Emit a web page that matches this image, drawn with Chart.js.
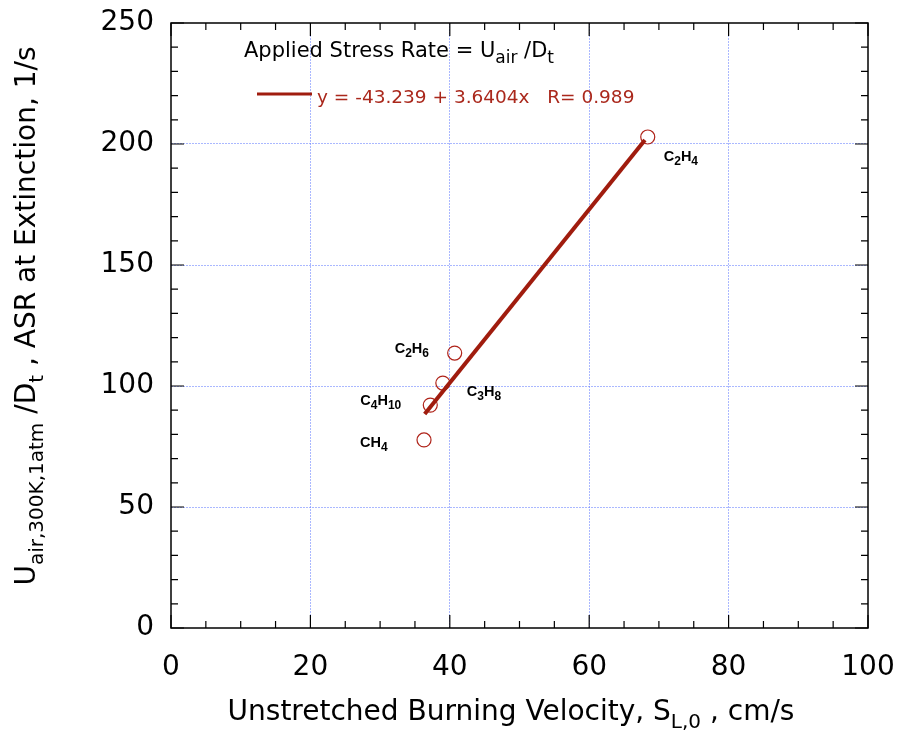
<!DOCTYPE html>
<html>
<head>
<meta charset="utf-8">
<script src="https://cdn.jsdelivr.net/npm/chart.js@4.4.1/dist/chart.umd.min.js"></script>
<style>
  html, body { margin: 0; padding: 0; background: #fff; }
  canvas { display: block; }
</style>
</head>
<body>
<canvas id="asrChart" width="903" height="732"></canvas>
<script>
// data
const xTicks = [0, 20, 40, 60, 80, 100];
const yTicks = [0, 50, 100, 150, 200, 250];
const fuels = ['CH4', 'C2H6', 'C3H8', 'C4H10', 'C2H4'];
const burningVelocity = [36.3, 40.7, 39.0, 37.2, 68.4];
const stressRate = [77.7, 113.6, 101.2, 92.1, 202.9];
const fitX = [36.4, 68.0];
const fitY = [88.4, 201.7];
const fitA = -43.239, fitB = 3.6404, fitR = 0.989;

const FONT = '"DejaVu Sans", sans-serif';
const RED = 'rgb(160, 28, 14)';
const GRID = 'rgba(100, 125, 255, 0.55)';

// draw text with subscripts: segs = [[text, isSub], ...]
function richWidth(ctx, segs, size, weight, ratio, font) {
  let w = 0;
  segs.forEach(([t, sub]) => {
    ctx.font = `${weight} ${sub ? Math.round(size * ratio) : size}px ${font || FONT}`;
    w += ctx.measureText(t).width;
  });
  return w;
}
function drawRich(ctx, segs, x, y, size, weight, ratio, font) {
  let cx = x;
  segs.forEach(([t, sub]) => {
    ctx.font = `${weight} ${sub ? Math.round(size * ratio) : size}px ${font || FONT}`;
    ctx.fillText(t, cx, sub ? y + size * 0.3 : y);
    cx += ctx.measureText(t).width;
  });
}
function chemSegs(name) {
  return name.match(/[A-Z][a-z]?|\d+/g).map(p => [p, /\d/.test(p)]);
}

// label offsets from each point, px
const labelOffsets = {
  CH4: [-64, 7], C2H6: [-60, 0], C3H8: [24, 13], C4H10: [-70, 0], C2H4: [16, 24]
};

const decorPlugin = {
  id: 'decor',
  beforeDraw(chart) {
    const ctx = chart.ctx;
    ctx.save();
    ctx.fillStyle = '#fff';
    ctx.fillRect(0, 0, chart.width, chart.height);
    ctx.restore();
  },
  afterDraw(chart) {
    const ctx = chart.ctx;
    const a = chart.chartArea;
    const xs = chart.scales.x, ys = chart.scales.y;
    ctx.save();

    // frame
    ctx.strokeStyle = '#000';
    ctx.lineWidth = 1.5;
    ctx.strokeRect(a.left, a.top, a.right - a.left, a.bottom - a.top);

    // inward ticks on all four sides
    ctx.lineWidth = 1.2;
    ctx.beginPath();
    for (let v = 0; v <= 100; v += 5) {
      const px = xs.getPixelForValue(v);
      const len = v % 20 === 0 ? 13 : 7;
      ctx.moveTo(px, a.bottom); ctx.lineTo(px, a.bottom - len);
      ctx.moveTo(px, a.top); ctx.lineTo(px, a.top + len);
    }
    for (let v = 0; v <= 250; v += 10) {
      const py = ys.getPixelForValue(v);
      const len = v % 50 === 0 ? 13 : 7;
      ctx.moveTo(a.left, py); ctx.lineTo(a.left + len, py);
      ctx.moveTo(a.right, py); ctx.lineTo(a.right - len, py);
    }
    ctx.stroke();

    // fuel labels
    ctx.fillStyle = '#000';
    ctx.textBaseline = 'alphabetic';
    fuels.forEach((f, i) => {
      const px = xs.getPixelForValue(burningVelocity[i]);
      const py = ys.getPixelForValue(stressRate[i]);
      const off = labelOffsets[f];
      drawRich(ctx, chemSegs(f), px + off[0], py + off[1], 14.5, 'bold', 0.8, '"Liberation Sans", sans-serif');
    });

    // legend
    drawRich(ctx, [['Applied Stress Rate = U', false], ['air', true], [' /D', false], ['t', true]],
      244, 57, 21, 'normal', 0.8);
    ctx.strokeStyle = RED;
    ctx.lineWidth = 3;
    ctx.beginPath();
    ctx.moveTo(257, 94); ctx.lineTo(312, 94);
    ctx.stroke();
    ctx.fillStyle = 'rgb(170, 40, 28)';
    ctx.font = `18.5px ${FONT}`;
    ctx.fillText(`y = ${fitA} + ${fitB}x   R= ${fitR}`, 317, 103);

    // axis titles
    ctx.fillStyle = '#000';
    const xt = [['Unstretched Burning Velocity, S', false], ['L,0', true], [' , cm/s', false]];
    const xw = richWidth(ctx, xt, 28, 'normal', 0.72);
    drawRich(ctx, xt, 511 - xw / 2, 720, 28, 'normal', 0.72);

    const yt = [['U', false], ['air,300K,1atm', true], [' /D', false], ['t', true], [' , ASR at Extinction, 1/s', false]];
    const yw = richWidth(ctx, yt, 28, 'normal', 0.72);
    ctx.translate(35, 316);
    ctx.rotate(-Math.PI / 2);
    drawRich(ctx, yt, -yw / 2, 0, 28, 'normal', 0.72);
    ctx.restore();
  }
};

const gridColor = (ctx, last) => {
  const v = ctx.tick ? ctx.tick.value : null;
  return (v === 0 || v === last) ? 'rgba(0,0,0,0)' : GRID;
};

new Chart(document.getElementById('asrChart').getContext('2d'), {
  type: 'scatter',
  data: {
    datasets: [
      {
        type: 'line',
        label: 'fit',
        data: fitX.map((x, i) => ({ x: x, y: fitY[i] })),
        borderColor: RED,
        borderWidth: 4,
        pointRadius: 0,
        fill: false,
        order: 0
      },
      {
        label: 'ASR',
        data: burningVelocity.map((x, i) => ({ x: x, y: stressRate[i] })),
        pointStyle: 'circle',
        pointRadius: 7,
        pointBorderWidth: 1.2,
        pointBorderColor: 'rgb(175, 35, 25)',
        pointBackgroundColor: 'rgba(0,0,0,0)',
        showLine: false,
        order: 1
      }
    ]
  },
  options: {
    responsive: false,
    animation: false,
    layout: { padding: { left: 0, top: 23, right: 35, bottom: 0 } },
    plugins: { legend: { display: false }, tooltip: { enabled: false } },
    scales: {
      x: {
        type: 'linear',
        min: xTicks[0],
        max: xTicks[xTicks.length - 1],
        afterBuildTicks: s => { s.ticks = xTicks.map(v => ({ value: v })); },
        afterFit: s => { s.height = 104; s.paddingLeft = 0; s.paddingRight = 0; },
        ticks: { color: '#000', font: { family: FONT, size: 28 }, padding: 23 },
        grid: { color: c => gridColor(c, 100), lineWidth: 1, drawTicks: false },
        border: { display: false, dash: [2, 1] }
      },
      y: {
        type: 'linear',
        min: yTicks[0],
        max: yTicks[yTicks.length - 1],
        afterBuildTicks: s => { s.ticks = yTicks.map(v => ({ value: v })); },
        afterFit: s => { s.width = 171; s.paddingTop = 0; s.paddingBottom = 0; },
        ticks: { color: '#000', font: { family: FONT, size: 28 }, padding: 17 },
        grid: { color: c => gridColor(c, 250), lineWidth: 1, drawTicks: false },
        border: { display: false, dash: [2, 1] }
      }
    }
  },
  plugins: [decorPlugin]
});
</script>
</body>
</html>
